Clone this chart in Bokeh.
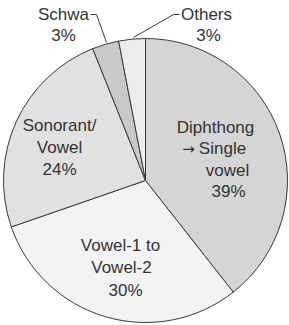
import math
from bokeh.plotting import figure
from bokeh.models import Range1d, ColumnDataSource
from bokeh.core.properties import value
from bokeh.embed import file_html
from bokeh.resources import INLINE

categories = ["Diphthong\n\u2192 Single\nvowel", "Vowel-1 to\nVowel-2", "Sonorant/\nVowel", "Schwa", "Others"]
values = [39, 30, 24, 3, 3]
colors = ["#d5d5d5", "#f3f3f3", "#e1e1e1", "#c9c9c9", "#ececec"]

W, H = 289, 325
cx, cy, R = 145, H - 180, 142

total = sum(values)
starts, ends = [], []
cum = 0
for v in values:
    a0 = math.pi / 2 - 2 * math.pi * cum / total
    cum += v
    a1 = math.pi / 2 - 2 * math.pi * cum / total
    starts.append(a1)
    ends.append(a0)

p = figure(width=W, height=H, x_range=Range1d(0, W), y_range=Range1d(0, H),
           output_backend="svg", toolbar_location=None, min_border=0,
           x_axis_location=None, y_axis_location=None)
p.grid.visible = False
p.outline_line_color = None
p.background_fill_color = "white"
p.border_fill_color = "white"

src = ColumnDataSource(dict(start=starts, end=ends, color=colors))
p.wedge(x=cx, y=cy, radius=R, start_angle="start", end_angle="end",
        fill_color="color", line_color="#3a3a3a", line_width=1, source=src)

# label line positions (pixel coords, top-origin)
label_pos = [
    [(215, 127), (222, 148), (227, 170), (228, 191)],
    [(120, 245), (121, 267), (125, 290)],
    [(59, 125), (59, 147), (59, 169)],
    [(63, 14), (63, 35)],
    [(206, 14), (208, 35)],
]
xs, ys, ts = [], [], []
ax, ay, at = [], [], []
for cat, v, pos in zip(categories, values, label_pos):
    lines = cat.split("\n") + [f"{v}%"]
    for t, (x, y) in zip(lines, pos):
        if t.startswith("\u2192"):
            ax.append(x - 34)
            ay.append(H - y)
            at.append("\u2192")
            t = t[1:].strip()
        xs.append(x)
        ys.append(H - y)
        ts.append(t)
p.text(x=xs, y=ys, text=ts, text_align="center", text_baseline="middle",
       text_font=value("Liberation Sans"), text_font_size="17px", text_color="#333333")
p.text(x=ax, y=ay, text=at, text_align="center", text_baseline="middle",
       text_font=value("DejaVu Sans"), text_font_size="15px", text_color="#333333")

# leader lines
p.line(x=[90, 96, 106], y=[H - 14, H - 14, H - 42], line_color="#3a3a3a", line_width=1)
p.line(x=[179, 173, 133], y=[H - 14, H - 14, H - 37], line_color="#3a3a3a", line_width=1)

open("out.html", "w").write(file_html(p, INLINE))
